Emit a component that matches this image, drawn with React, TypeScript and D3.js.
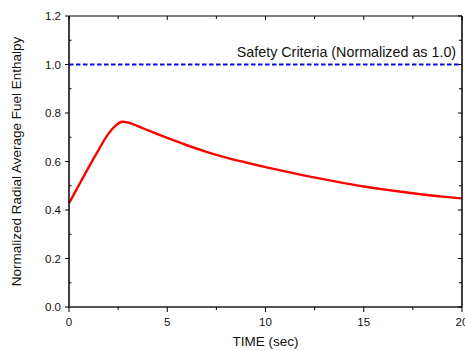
import React, { useEffect, useRef } from "react";
import * as d3 from "d3";

// enthalpy curve
const timeSec = [0, 0.5, 1, 1.5, 2, 2.4, 2.7, 3, 3.5, 4, 5, 6, 7, 8, 9, 10, 11, 12, 13, 14, 15, 16, 17, 18, 19, 20];
const enthalpy = [0.428, 0.502, 0.576, 0.647, 0.714, 0.75, 0.764, 0.761, 0.746, 0.729, 0.697, 0.667, 0.640, 0.616, 0.596, 0.577, 0.559, 0.542, 0.526, 0.511, 0.497, 0.485, 0.474, 0.464, 0.455, 0.448];
const xTicks = [0, 5, 10, 15, 20];
const xMinor = [2.5, 7.5, 12.5, 17.5];
const yTicks = [0, 0.2, 0.4, 0.6, 0.8, 1.0, 1.2];
const yMinor = [0.1, 0.3, 0.5, 0.7, 0.9, 1.1];
const criteria = 1.0;
const criteriaLabel = "Safety Criteria (Normalized as 1.0)";

const App = () => {
    const ref = useRef(null);

    useEffect(() => {
        const W = 465;
        const H = 351;
        const margin = { top: 16, right: 3, bottom: 44, left: 69 };
        const font = "Arial, 'Liberation Sans', sans-serif";

        const svg = d3
            .select(ref.current)
            .html("")
            .append("svg")
            .attr("width", W)
            .attr("height", H)
            .style("display", "block")
            .style("background", "white");

        const x = d3.scaleLinear().domain([0, 20]).range([margin.left, W - margin.right]);
        const y = d3.scaleLinear().domain([0, 1.2]).range([H - margin.bottom, margin.top]);
        const [x0, x1] = x.range();
        const [y0, y1] = y.range();

        // safety criteria line
        svg.append("line")
            .attr("x1", x0).attr("x2", x1)
            .attr("y1", y(criteria)).attr("y2", y(criteria))
            .attr("stroke", "#0a0aee")
            .attr("stroke-width", 2)
            .attr("stroke-dasharray", "4.5,2.5");

        svg.append("text")
            .attr("x", x(19.7))
            .attr("y", y(criteria) - 8)
            .attr("text-anchor", "end")
            .attr("font-family", font)
            .attr("font-size", 14.3)
            .attr("fill", "#111")
            .text(criteriaLabel);

        // curve
        const line = d3
            .line()
            .x((d, i) => x(timeSec[i]))
            .y((d) => y(d))
            .curve(d3.curveMonotoneX);

        svg.append("path")
            .datum(enthalpy)
            .attr("d", line)
            .attr("fill", "none")
            .attr("stroke", "#ff0000")
            .attr("stroke-width", 2.4);

        // frame
        svg.append("line").attr("x1", x0).attr("x2", x1).attr("y1", y1).attr("y2", y1)
            .attr("stroke", "#000").attr("stroke-width", 1.2);
        svg.append("line").attr("x1", x1).attr("x2", x1).attr("y1", y0).attr("y2", y1)
            .attr("stroke", "#000").attr("stroke-width", 1.5);
        svg.append("line").attr("x1", x0).attr("x2", x0).attr("y1", y0 + 1).attr("y2", y1)
            .attr("stroke", "#000").attr("stroke-width", 1.5);
        svg.append("line").attr("x1", x0).attr("x2", x1).attr("y1", y0).attr("y2", y0)
            .attr("stroke", "#555").attr("stroke-width", 2.2);

        const tick = (x1, y1, x2, y2) =>
            svg.append("line")
                .attr("x1", x1).attr("y1", y1).attr("x2", x2).attr("y2", y2)
                .attr("stroke", "#000").attr("stroke-width", 1);

        // bottom & top ticks
        xTicks.forEach((t) => {
            tick(x(t), y0, x(t), y0 + 5);
            tick(x(t), y1, x(t), y1 + 4);
        });
        xMinor.forEach((t) => {
            tick(x(t), y0, x(t), y0 + 3);
            tick(x(t), y1, x(t), y1 + 3);
        });
        // left & right ticks
        yTicks.forEach((v) => {
            tick(x0 - 4, y(v), x0, y(v));
            tick(x1 - 4, y(v), x1, y(v));
        });
        yMinor.forEach((v) => {
            tick(x0, y(v), x0 + 2.5, y(v));
            tick(x1 - 3, y(v), x1, y(v));
        });

        // tick labels
        svg.append("g")
            .selectAll("text")
            .data(xTicks)
            .join("text")
            .attr("x", (d) => x(d))
            .attr("y", y0 + 19)
            .attr("text-anchor", "middle")
            .attr("font-family", font)
            .attr("font-size", 11.5)
            .attr("fill", "#111")
            .text((d) => d);

        svg.append("g")
            .selectAll("text")
            .data(yTicks)
            .join("text")
            .attr("x", x0 - 8)
            .attr("y", (d) => y(d) + 4)
            .attr("text-anchor", "end")
            .attr("font-family", font)
            .attr("font-size", 11.5)
            .attr("fill", "#111")
            .text((d) => d.toFixed(1));

        // axis titles
        svg.append("text")
            .attr("x", (x0 + x1) / 2)
            .attr("y", H - 5)
            .attr("text-anchor", "middle")
            .attr("font-family", font)
            .attr("font-size", 13.5)
            .attr("fill", "#111")
            .text("TIME (sec)");

        svg.append("text")
            .attr("transform", `translate(21,${(y0 + y1) / 2}) rotate(-90)`)
            .attr("text-anchor", "middle")
            .attr("font-family", font)
            .attr("font-size", 13.5)
            .attr("fill", "#111")
            .text("Normalized Radial Average Fuel Enthalpy");
    }, []);

    return <div ref={ref} style={{ position: "absolute", left: 0, top: 0 }} />;
};

export default App;
